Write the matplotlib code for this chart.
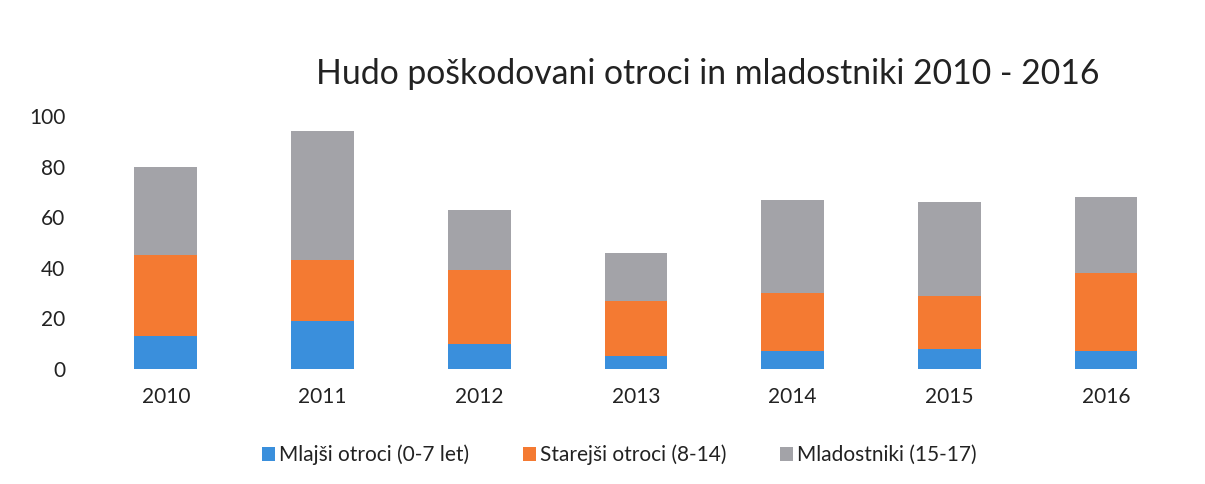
import matplotlib.pyplot as plt
import numpy as np

plt.rcParams['font.family'] = ['Lato', 'DejaVu Sans']

years = ['2010', '2011', '2012', '2013', '2014', '2015', '2016']
mlajsi = [13, 19, 10, 5, 7, 8, 7]
starejsi = [32, 24, 29, 22, 23, 21, 31]
mladostniki = [35, 51, 24, 19, 37, 37, 30]

labels = ['Mlajši otroci (0-7 let)', 'Starejši otroci (8-14)', 'Mladostniki (15-17)']
colors = ['#3a8fdc', '#f47a32', '#a3a3a8']

fig = plt.figure(figsize=(12.05, 4.84), dpi=100)
ax = fig.add_axes([0.0726, 0.2376, 0.9104, 0.5224])

x = np.arange(len(years))
w = 0.4
b1 = np.array(mlajsi)
b2 = b1 + np.array(starejsi)
ax.bar(x, mlajsi, w, color=colors[0], label=labels[0])
ax.bar(x, starejsi, w, bottom=b1, color=colors[1], label=labels[1])
ax.bar(x, mladostniki, w, bottom=b2, color=colors[2], label=labels[2])

ax.set_xlim(-0.5, len(years) - 0.5)
ax.set_ylim(0, 100)
ax.set_yticks([0, 20, 40, 60, 80, 100])
ax.set_xticks(x)
ax.set_xticklabels(years)
ax.tick_params(axis='both', length=0, labelsize=15, colors='#222222')
ax.tick_params(axis='y', pad=16)
ax.tick_params(axis='x', pad=13)
for s in ax.spines.values():
    s.set_visible(False)

fig.text(0.587, 0.848, 'Hudo poškodovani otroci in mladostniki 2010 - 2016',
         ha='center', va='center', fontsize=24.3, color='#222222')

fig.legend(loc='center', bbox_to_anchor=(0.514, 0.06), ncol=3, frameon=False,
           fontsize=15, handlelength=0.6, handleheight=0.6, handletextpad=0.2,
           columnspacing=2.6, labelcolor='#222222')

fig.savefig('out.png', dpi=100)
